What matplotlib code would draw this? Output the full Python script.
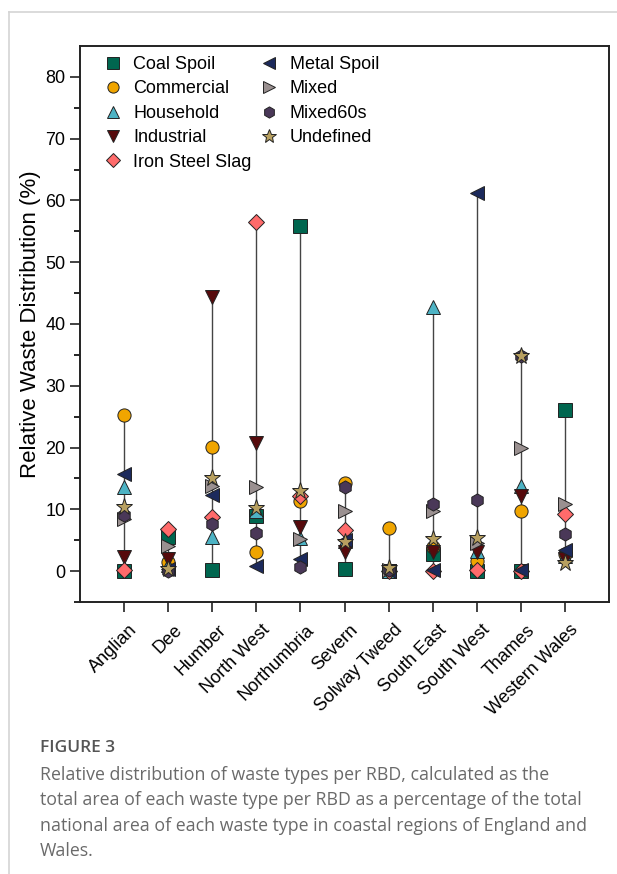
import numpy as np
import matplotlib.pyplot as plt
from matplotlib.transforms import ScaledTranslation

plt.rcParams['font.family'] = ['Liberation Sans', 'DejaVu Sans']

# River basin districts
regions = ['Anglian', 'Dee', 'Humber', 'North West', 'Northumbria', 'Severn',
           'Solway Tweed', 'South East', 'South West', 'Thames', 'Western Wales']

# Relative waste distribution (%) per RBD
coal_spoil = [0.0, 5.6, 0.1, 8.9, 55.9, 0.4, 0.0, 2.8, 0.0, 0.0, 26.0]
commercial = [25.2, 1.5, 20.1, 3.1, 11.3, 14.3, 7.0, 3.9, 1.7, 9.8, 2.8]
household = [13.6, 1.0, 5.5, 9.7, 5.4, 4.8, 0.0, 42.8, 3.2, 13.7, 2.4]
industrial = [2.3, 2.0, 44.4, 20.7, 7.2, 3.1, 0.0, 3.1, 3.1, 12.1, 2.0]
iron_steel_slag = [0.2, 6.8, 8.8, 56.5, 12.2, 6.7, 0.0, 0.0, 0.1, 0.0, 9.2]
metal_spoil = [15.8, 0.3, 12.3, 0.9, 1.9, 5.1, 0.0, 0.2, 61.2, 0.1, 3.4]
mixed = [8.4, 4.1, 13.7, 13.6, 5.2, 9.7, 0.2, 9.8, 4.6, 19.9, 10.9]
mixed60s = [9.1, 0.0, 7.7, 6.2, 0.7, 13.6, 0.2, 10.9, 11.5, 34.8, 6.0]
undefined = [10.4, 0.4, 15.0, 10.2, 13.0, 4.7, 0.5, 5.2, 5.4, 34.8, 1.3]

series = [
    ('Coal Spoil', coal_spoil, 's', '#00664f'),
    ('Commercial', commercial, 'o', '#f0a500'),
    ('Household', household, '^', '#4db3c4'),
    ('Industrial', industrial, 'v', '#560a0c'),
    ('Iron Steel Slag', iron_steel_slag, 'D', '#ff6b6b'),
    ('Metal Spoil', metal_spoil, '<', '#1c2a5c'),
    ('Mixed', mixed, '>', '#9a9090'),
    ('Mixed60s', mixed60s, 'h', '#4a3858'),
    ('Undefined', undefined, '*', '#b8a060'),
]

x = np.arange(1, len(regions) + 1)
all_vals = np.array([s[1] for s in series])

fig = plt.figure(figsize=(6.17, 8.74), dpi=100)
ax = fig.add_axes([80 / 617, 1 - 602 / 874, 529 / 617, 556 / 874])

# vertical range lines per RBD
ax.vlines(x, all_vals.min(axis=0), all_vals.max(axis=0), color='#444444', linewidth=1.0, zorder=1)

for name, vals, marker, color in series:
    size = 12.5 if marker == '*' else 9.5
    if marker == 'D':
        size = 8.5
    ax.plot(x, vals, linestyle='none', marker=marker, markersize=size,
            markerfacecolor=color, markeredgecolor='#222222', markeredgewidth=0.7,
            label=name, zorder=3)

ax.set_xlim(0, 12)
ax.set_ylim(-5, 85)
ax.set_yticks(range(0, 81, 10))
ax.set_yticks(range(-5, 85, 10), minor=True)
ax.set_xticks(x)
ax.tick_params(axis='both', direction='out', length=7, width=1.2, labelsize=13, color='#222222')
ax.tick_params(axis='y', which='minor', direction='out', length=4, width=1.2)
ax.set_xticklabels(regions, rotation=45, ha='right', rotation_mode='anchor', fontsize=13)
offset = ScaledTranslation(5 / 100, -5 / 100, fig.dpi_scale_trans)
for tick in ax.xaxis.get_major_ticks():
    tick.label1.set_transform(tick.label1.get_transform() + offset)
for sp in ax.spines.values():
    sp.set_linewidth(1.4)
    sp.set_color('#222222')
ax.set_ylabel('Relative Waste Distribution (%)', fontsize=16, labelpad=3)

ax.legend(ncol=2, loc='upper left', bbox_to_anchor=(0.019, 1.003), frameon=False,
          fontsize=13, handlelength=1.2, handletextpad=0.55, columnspacing=0.35,
          labelspacing=0.41, borderaxespad=0.25, markerscale=0.85)

# figure card frame
fig.add_artist(plt.Line2D([9 / 617, 9 / 617], [0, 1 - 12 / 874], color='#d4d4d4', linewidth=1.2))
fig.add_artist(plt.Line2D([9 / 617, 1], [1 - 12 / 874, 1 - 12 / 874], color='#d4d4d4', linewidth=1.2))

fig.text(40 / 617, 1 - 748 / 874, 'FIGURE 3', fontsize=12.5, color='#555555',
         family=['Open Sans', 'DejaVu Sans'], fontweight='semibold', va='center')
caption = ('Relative distribution of waste types per RBD, calculated as the\n'
           'total area of each waste type per RBD as a percentage of the total\n'
           'national area of each waste type in coastal regions of England and\n'
           'Wales.')
fig.text(40 / 617, 1 - 766 / 874, caption, fontsize=12.8, color='#6a6a6a',
         family=['Open Sans', 'DejaVu Sans'], va='top', linespacing=1.52)

fig.savefig('out.png', dpi=100)
